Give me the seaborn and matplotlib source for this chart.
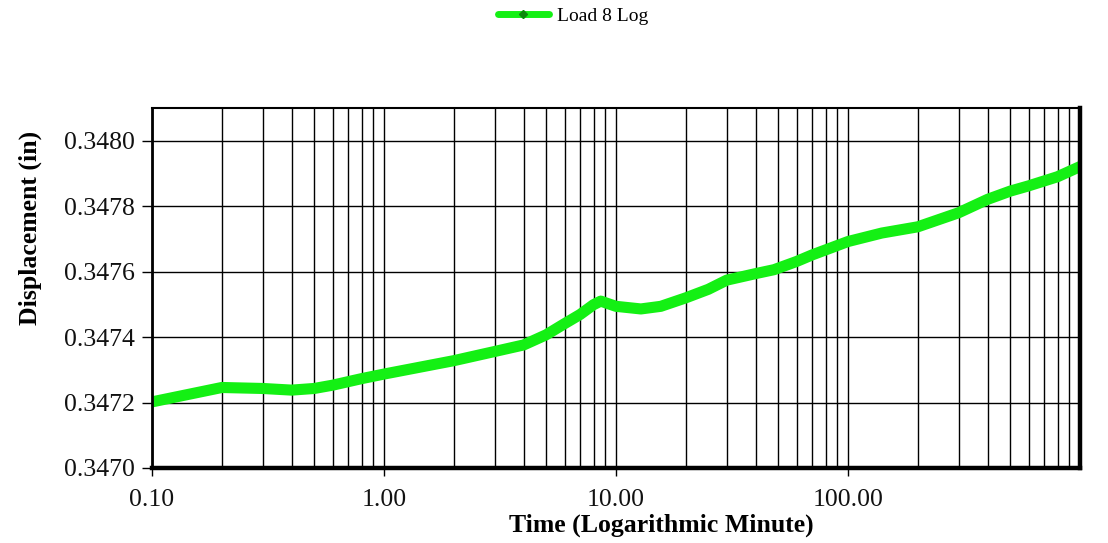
import numpy as np
import pandas as pd
import matplotlib
matplotlib.use("Agg")
import matplotlib.pyplot as plt
import seaborn as sns
from matplotlib.ticker import FixedLocator, LogLocator, NullFormatter, FuncFormatter
from matplotlib.lines import Line2D

time_min = [0.1, 0.2, 0.3, 0.4, 0.5, 0.6, 0.8, 1.0, 2.0, 3.0, 4.0, 5.0, 6.0, 7.0,
            8.0, 8.6, 9.0, 10, 12.8, 15.6, 20, 25, 30, 40, 48, 60, 70, 100,
            140, 200, 300, 400, 500, 600, 800, 1000]
displacement = [0.347202, 0.347246, 0.347243, 0.347238, 0.347243, 0.347253, 0.347273,
                0.347287, 0.347328, 0.347356, 0.347376, 0.347407, 0.347441, 0.347469,
                0.347499, 0.347510, 0.347505, 0.347494, 0.347486, 0.347494, 0.347520,
                0.347546, 0.347574, 0.347594, 0.347606, 0.347631, 0.347651, 0.347692,
                0.347718, 0.347737, 0.347780, 0.347821, 0.347846, 0.347862, 0.347890,
                0.347921]
series_name = "Load 8 Log"
y_ticks = [0.3470, 0.3472, 0.3474, 0.3476, 0.3478, 0.3480]
x_ticks = [0.1, 1, 10, 100]

df = pd.DataFrame({"Time": time_min, "Displacement": displacement, "Series": series_name})

sns.set_theme(style="white")
plt.rcParams["font.family"] = ["Liberation Serif", "DejaVu Serif"]

fig = plt.figure(figsize=(11.08, 5.43), dpi=100)
ax = fig.add_axes([152/1108, 1-468/543, (1080-152)/1108, (468-108)/543])

green = "#14f014"
sns.lineplot(data=df, x="Time", y="Displacement", ax=ax, color=green,
             linewidth=8, legend=False, solid_capstyle="round", solid_joinstyle="round")

ax.set_xscale("log")
ax.set_xlim(0.1, 1000)
ax.set_ylim(0.3470, 0.3481)

ax.xaxis.set_major_locator(FixedLocator(x_ticks))
ax.xaxis.set_minor_locator(LogLocator(base=10, subs=np.arange(2, 10)))
ax.xaxis.set_minor_formatter(NullFormatter())
ax.xaxis.set_major_formatter(FuncFormatter(lambda v, p: f"{v:.2f}"))
ax.yaxis.set_major_locator(FixedLocator(y_ticks))
ax.yaxis.set_major_formatter(FuncFormatter(lambda v, p: f"{v:.4f}"))

ax.grid(True, which="major", axis="both", color="black", linewidth=1.0)
ax.grid(True, which="minor", axis="x", color="black", linewidth=1.0)
ax.set_axisbelow(True)

ax.tick_params(axis="x", which="major", direction="out", length=6, width=1, color="black",
               labelsize=18.5, pad=9, bottom=True, labelcolor="#111111")
ax.tick_params(axis="x", which="minor", length=0)
ax.tick_params(axis="y", which="major", direction="out", length=7, width=1, color="black",
               labelsize=18.5, pad=5, left=True, labelcolor="#111111")

for side, lw in [("left", 2.0), ("bottom", 3.2), ("right", 3.2), ("top", 1.5)]:
    ax.spines[side].set_visible(True)
    ax.spines[side].set_color("black")
    ax.spines[side].set_linewidth(lw)

ax.set_xlabel("Time (Logarithmic Minute)", fontsize=18.5, fontweight="bold", color="black")
ax.set_ylabel("Displacement (in)", fontsize=18.5, fontweight="bold", color="black")
ax.xaxis.set_label_coords((661-152)/928, -(514-468)/360)
ax.yaxis.set_label_coords(-(152-42)/928, (468-228)/360)

handle = Line2D([], [], color=green, linewidth=5, marker="D", markersize=4,
                markerfacecolor="#0a8a0a", markeredgecolor="#0a8a0a")
fig.legend([handle], [series_name], loc="center", bbox_to_anchor=(573/1108, 1-16/543),
           frameon=False, fontsize=14, handlelength=2.6, handletextpad=0.4,
           labelcolor="black")

fig.savefig("out.png", dpi=100)
